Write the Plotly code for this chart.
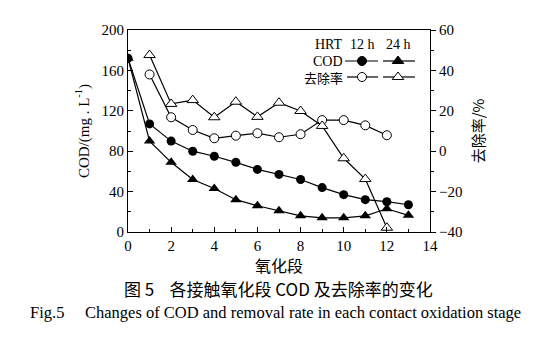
import plotly.graph_objects as go

stage = list(range(0, 14))
cod_12h = [172, 107, 90, 80, 75, 69, 62, 57, 52, 44, 37, 32, 30, 27]
cod_24h = [172, 90, 69, 52, 43, 32, 26, 21, 16, 14, 14, 16, 23, 16.5]
stage_rm = list(range(1, 13))
rm_12h = [38, 16.8, 10.5, 6.4, 7.7, 8.9, 6.9, 8.4, 15.4, 15.4, 12.8, 7.9]
rm_24h = [47.6, 23.4, 25.3, 16.8, 24.5, 17, 24, 19.9, 12.5, -3.5, -13.8, -37.9]

SERIF = "Liberation Serif, Times New Roman, serif"
CJK = "Noto Sans CJK SC"
BLACK = "#000000"

fig = go.Figure()
line = dict(color=BLACK, width=1.2)

fig.add_trace(go.Scatter(x=stage, y=cod_12h, mode="lines+markers", line=line,
                         marker=dict(symbol="circle", size=9, color=BLACK), showlegend=False))
fig.add_trace(go.Scatter(x=stage, y=cod_24h, mode="lines+markers", line=line,
                         marker=dict(symbol="triangle-up", size=10, color=BLACK), showlegend=False))
fig.add_trace(go.Scatter(x=stage_rm, y=rm_12h, mode="lines+markers", line=line, yaxis="y2",
                         marker=dict(symbol="circle", size=9, color="white", line=dict(color=BLACK, width=1)),
                         showlegend=False))
fig.add_trace(go.Scatter(x=stage_rm, y=rm_24h, mode="lines+markers", line=line, yaxis="y2",
                         marker=dict(symbol="triangle-up", size=10, color="white", line=dict(color=BLACK, width=1)),
                         showlegend=False))

# legend glyphs on an overlay axis in [0,1] units
def px2x(p):
    return (p - 128) / 302
def px2y(p):
    return (232 - p) / 202

leg = [
    (345, 378, 362, 61, "circle", BLACK),
    (383, 415, 398, 61, "triangle-up", BLACK),
    (347, 378, 362, 77, "circle", "white"),
    (383, 415, 398, 77, "triangle-up", "white"),
]
for x0, x1, xm, yy, sym, fc in leg:
    fig.add_trace(go.Scatter(x=[px2x(x0), px2x(xm), px2x(x1)], y=[px2y(yy)] * 3,
                             mode="lines", line=dict(color=BLACK, width=1.2),
                             xaxis="x3", yaxis="y3", showlegend=False, hoverinfo="skip"))
    fig.add_trace(go.Scatter(x=[px2x(xm)], y=[px2y(yy)], mode="markers",
                             marker=dict(symbol=sym, size=9 if sym == "circle" else 10, color=fc,
                                         line=dict(color=BLACK, width=1)),
                             xaxis="x3", yaxis="y3", showlegend=False, hoverinfo="skip"))

annots = [
    dict(x=px2x(345), y=px2y(45), text="HRT", xanchor="right", font=dict(family=SERIF, size=14)),
    dict(x=px2x(362), y=px2y(45), text="12 h", xanchor="center", font=dict(family=SERIF, size=14)),
    dict(x=px2x(398), y=px2y(45), text="24 h", xanchor="center", font=dict(family=SERIF, size=14)),
    dict(x=px2x(345), y=px2y(61), text="COD", xanchor="right", font=dict(family=SERIF, size=14)),
    dict(x=px2x(345), y=px2y(77), text="去除率", xanchor="right", font=dict(family=CJK, size=13)),
]
for a in annots:
    a.update(xref="paper", yref="paper", yanchor="middle", showarrow=False)

annots += [
    dict(x=px2x(279), y=px2y(265), text="氧化段", xref="paper", yref="paper", showarrow=False,
         xanchor="center", yanchor="middle", font=dict(family=CJK, size=16)),
    dict(x=px2x(278), y=px2y(288), text="图 5    各接触氧化段 COD 及去除率的变化", xref="paper", yref="paper",
         showarrow=False, xanchor="center", yanchor="middle", font=dict(family=CJK, size=17)),
    dict(x=px2x(275), y=px2y(312), text="Fig.5     Changes of COD and removal rate in each contact oxidation stage",
         xref="paper", yref="paper", showarrow=False, xanchor="center", yanchor="middle",
         font=dict(family=SERIF, size=16.5)),
]

def axis_common(ticks):
    return dict(showgrid=False, zeroline=False, showline=True, linecolor=BLACK, linewidth=1,
                ticks=ticks, ticklen=5, tickcolor=BLACK,
                tickfont=dict(family=SERIF, size=15, color=BLACK))

fig.update_layout(
    width=554, height=339,
    margin=dict(l=128, r=124, t=30, b=107),
    paper_bgcolor="white", plot_bgcolor="white",
    font=dict(family=SERIF, color=BLACK),
    xaxis=dict(range=[0, 14], dtick=2, mirror=True,
               minor=dict(dtick=1, ticks="inside", ticklen=3, tickcolor=BLACK),
               **axis_common("inside")),
    yaxis=dict(range=[0, 200], dtick=40,
               minor=dict(dtick=20, ticks="inside", ticklen=3, tickcolor=BLACK),
               title=dict(text="COD/(mg . L<sup>-1</sup>)", font=dict(family=SERIF, size=15), standoff=8),
               **axis_common("inside")),
    yaxis2=dict(range=[-40, 60], dtick=20, overlaying="y", side="right",
                minor=dict(dtick=10, ticks="outside", ticklen=3, tickcolor=BLACK),
                title=dict(text="去除率/%", font=dict(family=CJK, size=15), standoff=12),
                **axis_common("outside")),
    xaxis3=dict(range=[0, 1], overlaying="x", visible=False),
    yaxis3=dict(range=[0, 1], overlaying="y", visible=False),
    annotations=annots,
)

fig.write_html("out.html")
